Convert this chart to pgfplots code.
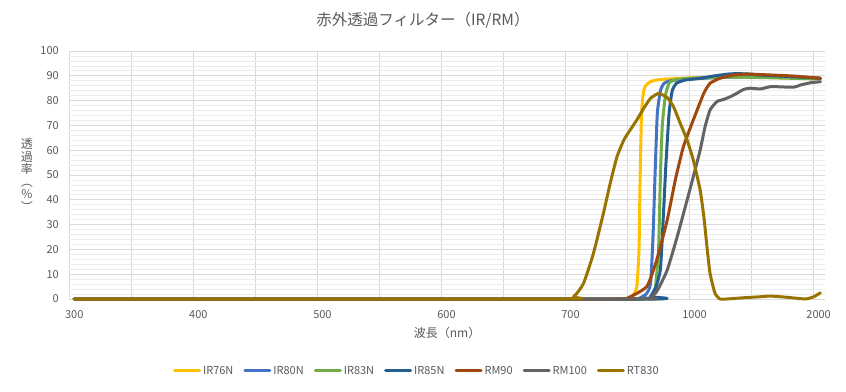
\documentclass[border=0pt]{standalone}
\usepackage{fontspec}
\setmainfont{Noto Sans CJK JP}
\usepackage{pgfplots}
\pgfplotsset{compat=1.18}
\definecolor{txt}{HTML}{595959}
\definecolor{gridc}{HTML}{D9D9D9}
\definecolor{mgridc}{HTML}{EDEDED}
\definecolor{cA}{HTML}{FFC000}
\definecolor{cB}{HTML}{4472C4}
\definecolor{cC}{HTML}{70AD47}
\definecolor{cD}{HTML}{255E91}
\definecolor{cE}{HTML}{9E480E}
\definecolor{cF}{HTML}{636363}
\definecolor{cG}{HTML}{997300}
\begin{document}
\begin{tikzpicture}
\path[use as bounding box] (0pt,0pt) rectangle (846pt,391pt);
\node[font=\fontsize{15.5}{18}\selectfont, text=txt] at (423pt,371pt) {赤外透過フィルター（IR/RM）};
\begin{axis}[
  at={(69.3pt,92pt)}, anchor=south west, scale only axis,
  width=755.5pt, height=248pt,
  xmin=0, xmax=121.8, ymin=0, ymax=100,
  clip=false,
  axis line style={draw=none},
  major tick length=0pt, minor tick length=0pt,
  xtick={0,10,...,120},
  xticklabels={300,,400,,500,,600,,700,,1000,,2000},
  ytick={0,10,...,100},
  minor y tick num=4,
  xmajorgrids, ymajorgrids, yminorgrids,
  major grid style={draw=gridc, line width=0.75pt},
  minor grid style={draw=mgridc, line width=0.75pt},
  /pgf/number format/assume math mode=true,
  tick label style={font=\fontsize{11}{13}\selectfont, text=txt},
  xticklabel style={xshift=5pt, yshift=-8pt},
  yticklabel style={xshift=-7pt},
  xlabel={波長（nm）},
  xlabel style={font=\fontsize{12}{14}\selectfont, text=txt, at={(axis description cs:0.5,-0.137)}, anchor=center},
  legend style={at={(axis description cs:0.46,-0.29)}, anchor=center, draw=none, fill=none,
    font=\fontsize{11}{13}\selectfont, text=txt, legend columns=-1,
    /tikz/every even column/.append style={column sep=8pt}},
  legend image code/.code={\draw[#1] (0pt,0pt) -- (25pt,0pt);},
  every axis plot/.append style={line width=3pt, line join=round, line cap=round, no markers, smooth, tension=0.3},
]
\addplot[cA] table {
x y
0.76 0
88.8 0
90.1 0.3
90.9 1.5
91.5 5
91.85 20
92.0 45
92.2 70
92.4 80
92.7 85
93.3 87
94.1 88
95.3 88.5
98.5 89
104.9 89.5
111.4 89.5
117.9 89
121.1 88.8
};
\addlegendentry{IR76N}
\addplot[cB] table {
x y
0.76 0
90.4 0
92.0 0.5
93.0 2
93.7 6
94.1 25
94.5 55
94.8 75
95.3 84
95.9 87
96.9 88
100.1 88.7
104.9 89.3
111.4 89.6
121.1 89
};
\addlegendentry{IR80N}
\addplot[cC] table {
x y
0.76 0
92.0 0
93.7 1
94.5 5
95.0 20
95.3 50
95.6 70
96.1 82
96.7 87
97.7 88.5
100.1 89
106.6 89.5
111.4 89.3
121.1 88.7
};
\addlegendentry{IR83N}
\addplot[cD] table {
x y
0.76 0
92.7 0
93.7 1
94.6 5
95.3 12
95.7 30
96.2 55
96.7 75
97.2 84
97.9 87
99.3 88.3
101.7 89
104.1 90
106.6 90.8
109.0 90.8
111.4 90.3
116.2 89.7
121.1 89
};
\addlegendentry{IR85N}
\addplot[cE] table {
x y
0.76 0
87.2 0
89.9 0.3
93.1 5
94.7 15.7
96.4 31.9
97.7 48
99.0 61.4
100.6 72.2
102.3 83
103.3 87
104.9 89
107.1 90.3
109.3 90.7
111.4 90.5
116.8 89.9
121.1 89
};
\addlegendentry{RM90}
\addplot[cF] table {
x y
0.76 0
90.4 0
93.4 0.3
94.7 3
96.4 11.7
98.0 25.1
99.6 39.9
100.6 49.3
101.7 60
102.5 69.5
103.3 76.2
104.4 79.6
105.5 80.5
106.6 81.6
107.6 82.9
108.7 84.5
109.8 85
111.4 84.7
113.0 85.6
114.1 85.6
116.8 85.4
117.9 86.3
119.5 87.2
121.1 87.6
};
\addlegendentry{RM100}
\addplot[cG] table {
x y
0.76 0
79.1 0
81.3 0.9
82.9 6.3
84.5 18.4
86.1 34.5
87.2 46.6
88.3 57.4
89.4 64.1
90.4 68.1
91.5 72.2
92.6 76.9
93.7 80.9
95.0 82.9
96.4 81.2
97.4 77.6
98.5 70.8
99.6 64.1
100.6 56
101.7 44
102.3 33.2
102.8 21.1
103.3 10.3
104.1 2.3
104.9 0
106.0 0
108.7 0.5
111.4 0.9
113.0 1.2
115.7 0.7
118.7 0
120.0 0.9
121.1 2.5
};
\addlegendentry{RT830}
\node[align=center, font=\fontsize{12}{12.6}\selectfont, text=txt, inner sep=0pt] at (axis description cs:-0.056,0.5) {透\\過\\率\\︵\\\%\\︶};
\end{axis}
\end{tikzpicture}
\end{document}
